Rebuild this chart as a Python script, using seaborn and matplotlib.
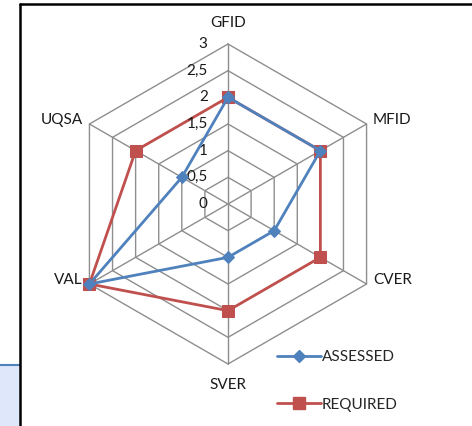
import numpy as np
import pandas as pd
import matplotlib
matplotlib.use("Agg")
import matplotlib.pyplot as plt
from matplotlib.patches import Rectangle
from matplotlib.lines import Line2D
import seaborn as sns

# data
categories = ["GFID", "MFID", "CVER", "SVER", "VAL", "UQSA"]
assessed = [2, 2, 1, 1, 3, 1]
required = [2, 2, 2, 2, 3, 2]
tick_values = [0, 0.5, 1, 1.5, 2, 2.5, 3]
tick_labels = ["0", "0,5", "1", "1,5", "2", "2,5", "3"]

sns.set_style("white")
plt.rcParams["font.family"] = ["Lato", "DejaVu Sans"]

blue = "#4f81bd"
red = "#c0504d"
grid_col = "#8e8e8e"
txt_col = "#1a1a1a"

W, H = 472, 426
fig = plt.figure(figsize=(W / 100, H / 100), dpi=100)

# center of radar in pixels and scale
cx, cy = 228, 204
scale = 160 / 3.0
ax = fig.add_axes([0, 0, 1, 1])
ax.set_xlim(-cx / scale, (W - cx) / scale)
ax.set_ylim(-(H - cy) / scale, cy / scale)
ax.axis("off")

n = len(categories)
angles = np.arange(n) * 2 * np.pi / n


def to_xy(vals):
    vals = list(vals) + [vals[0]]
    ang = list(angles) + [angles[0]]
    return np.array(vals) * np.sin(ang), np.array(vals) * np.cos(ang)


# hexagonal grid
for r in tick_values[1:]:
    gx, gy = to_xy([r] * n)
    ax.plot(gx, gy, color=grid_col, lw=1.0, zorder=1)
for a in angles:
    ax.plot([0, 3 * np.sin(a)], [0, 3 * np.cos(a)], color=grid_col, lw=1.0, zorder=1)

# series
def series_df(vals, name):
    x, y = to_xy(vals)
    return pd.DataFrame({"x": x, "y": y, "series": name})

df_a = series_df(assessed, "ASSESSED")
df_r = series_df(required, "REQUIRED")

sns.lineplot(data=df_r, x="x", y="y", sort=False, estimator=None, color=red,
             lw=2.0, marker="s", markersize=9, markeredgecolor=red, ax=ax,
             zorder=3, label="REQUIRED")
sns.lineplot(data=df_a, x="x", y="y", sort=False, estimator=None, color=blue,
             lw=2.0, marker="D", markersize=6, markeredgecolor=blue, ax=ax,
             zorder=4, label="ASSESSED")

# category labels
fs = 11
lab_r = 3.4
for cat, a in zip(categories, angles):
    s, c = np.sin(a), np.cos(a)
    if abs(s) < 1e-6:
        ax.text(0, lab_r * c, cat, ha="center", va="center", fontsize=fs, color=txt_col)
    else:
        x = 3 * s + (0.12 if s > 0 else -0.12)
        y = 3 * c + 0.07
        ax.text(x, y, cat, ha="left" if s > 0 else "right", va="center",
                fontsize=fs, color=txt_col)

# radial tick labels
for v, t in zip(tick_values, tick_labels):
    ax.text(-0.38, v, t, ha="right", va="center", fontsize=fs, color=txt_col)

# legend
h_a = Line2D([], [], color=blue, lw=2.0, marker="D", markersize=6)
h_r = Line2D([], [], color=red, lw=2.0, marker="s", markersize=9)
ax.legend([h_a, h_r], ["ASSESSED", "REQUIRED"], loc="center left",
          bbox_to_anchor=(277 / W, 1 - 381 / H), bbox_transform=fig.transFigure,
          frameon=False, fontsize=fs, handlelength=2.85, handletextpad=0.1,
          labelspacing=2.2, borderpad=0, borderaxespad=0)

# frame and left panel
fig.patches.append(Rectangle((0, 0), 20 / W, 1 - 365 / H, transform=fig.transFigure,
                             facecolor="#dfe8fb", edgecolor="none", zorder=0))
fig.lines.append(Line2D([0, 20 / W], [1 - 365 / H] * 2, transform=fig.transFigure,
                        color="#4f81bd", lw=1.5))
fig.lines.append(Line2D([20 / W, 20 / W], [0, 1 - 4 / H], transform=fig.transFigure,
                        color="black", lw=1.8))
fig.lines.append(Line2D([20 / W, 1], [1 - 4 / H] * 2, transform=fig.transFigure,
                        color="black", lw=1.8))

fig.savefig("out.png", dpi=100)
